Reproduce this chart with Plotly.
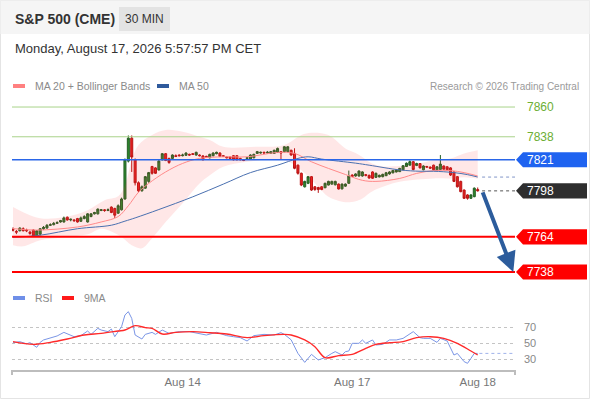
import plotly.graph_objects as go

# S&P 500 (CME) 30 min bars, oldest first
opens = [
    7769.5, 7768, 7768.5, 7770, 7769, 7767.5, 7769, 7764.5, 7766, 7770,
    7770.5, 7772.5, 7773, 7774, 7775, 7775, 7778.5, 7776.5, 7776.5, 7777.5,
    7775.5, 7777.5, 7775, 7779, 7781, 7781, 7783.5, 7784, 7783.5, 7786,
    7785, 7781.5, 7784, 7792, 7820, 7837, 7821, 7804, 7798, 7800,
    7805, 7816, 7815, 7813.5, 7821, 7825.5, 7822, 7822, 7824, 7824.5,
    7824, 7824.3, 7825, 7825.5, 7824.5, 7824.5, 7823.8, 7823.5, 7822.5, 7824,
    7825.5, 7826, 7824, 7823, 7823, 7824, 7824, 7822, 7821, 7822,
    7821.5, 7822.5, 7825.7, 7826, 7826.5, 7826, 7825.7, 7825.7, 7826.5, 7827,
    7827, 7827, 7828, 7825.7, 7817, 7811, 7801, 7803.6, 7808.5, 7801,
    7800.5, 7801, 7800.3, 7802.3, 7803, 7802.5, 7803, 7799.5, 7801.5, 7803.6,
    7809.7, 7809, 7809, 7809, 7810, 7809.5, 7812, 7808, 7808.3, 7808.5,
    7809.2, 7810.5, 7811.3, 7812, 7812.2, 7813.6, 7816, 7817, 7819.6, 7816.8,
    7818.2, 7813.6, 7816, 7815.6, 7817, 7813.6, 7813.8, 7816.4, 7815.8, 7815,
    7812, 7808.5, 7805, 7798.6, 7795, 7792.5, 7793.7, 7799,
]
highs = [
    7771, 7769, 7771, 7771, 7770, 7768.5, 7769.5, 7769, 7770.5, 7772,
    7773.5, 7774, 7775, 7775.5, 7776.5, 7779, 7779, 7777.5, 7777, 7778,
    7779, 7780, 7781.5, 7781.5, 7782.5, 7785, 7784.5, 7784.5, 7785, 7786.5,
    7785.5, 7788, 7793, 7822, 7839, 7839, 7822, 7805, 7802, 7809,
    7812, 7816.5, 7815.5, 7821, 7826, 7826, 7822.5, 7825, 7825, 7825,
    7825.5, 7826.5, 7825.5, 7826, 7827, 7825, 7824.5, 7824, 7825.5, 7826.5,
    7827, 7826.5, 7824.5, 7823.5, 7823.5, 7824.5, 7824.5, 7822.5, 7821.5, 7823,
    7825, 7825.5, 7827.5, 7827, 7827, 7827.5, 7827.5, 7828.5, 7830, 7827.5,
    7831, 7831, 7828.5, 7829.5, 7817.5, 7811.5, 7805.5, 7809, 7809, 7801.5,
    7801, 7801.5, 7804, 7805.5, 7805.5, 7805.5, 7803.5, 7803.5, 7803.5, 7813,
    7810.2, 7811, 7813, 7812.5, 7810.5, 7810, 7812.5, 7811.5, 7810, 7810.7,
    7812, 7812.5, 7813.5, 7814, 7815, 7817, 7819, 7820.5, 7820, 7818.8,
    7818.6, 7816.9, 7816.5, 7816, 7817.4, 7816.2, 7824.5, 7816.8, 7816.2, 7815.5,
    7812.5, 7809, 7805.5, 7799, 7795.5, 7795.5, 7800.5, 7800.5,
]
lows = [
    7768, 7766, 7768, 7768, 7767.5, 7765.5, 7764, 7764, 7765, 7769,
    7770, 7772, 7772.5, 7773.5, 7774.5, 7774.5, 7776, 7775.5, 7775, 7774.5,
    7775, 7777, 7774.5, 7778.5, 7780.5, 7780.5, 7783, 7782.5, 7783, 7781.5,
    7778, 7781, 7783.5, 7791.5, 7819, 7812, 7802, 7797, 7797.5, 7799.5,
    7804, 7810, 7810.5, 7813, 7820.5, 7820, 7818, 7821.5, 7823, 7823.5,
    7823.5, 7824, 7824, 7824.5, 7824, 7823.5, 7820.5, 7822.5, 7822, 7823.5,
    7825, 7823, 7823, 7822, 7821.5, 7820.5, 7820.5, 7820.5, 7820, 7821.5,
    7821, 7822, 7825.5, 7825.5, 7825.5, 7825.5, 7825.5, 7825.5, 7826, 7821,
    7826.5, 7826.5, 7824, 7814, 7810, 7801.5, 7800.5, 7803, 7798, 7798,
    7796.5, 7798.5, 7800, 7802, 7802.5, 7802, 7799, 7799, 7801, 7803.3,
    7808.3, 7808.5, 7808.5, 7808.5, 7808.7, 7807, 7806.8, 7807.5, 7808, 7808,
    7809, 7810, 7811, 7811.6, 7812, 7813.2, 7815.8, 7816.8, 7813.2, 7816.3,
    7814.6, 7813.2, 7815.2, 7814.4, 7813.2, 7813.2, 7813.4, 7813.4, 7813, 7809,
    7804.5, 7800.5, 7797, 7792, 7791.5, 7792, 7793.3, 7797.5,
]
closes = [
    7769, 7767.5, 7770.5, 7768.5, 7768.5, 7766.5, 7764.5, 7768.5, 7770, 7771,
    7772.5, 7773, 7774, 7774.5, 7776, 7778, 7776.5, 7777, 7776, 7775,
    7778, 7779, 7781, 7781, 7782, 7784.5, 7784, 7783.5, 7784, 7782,
    7780, 7787, 7792, 7821, 7837, 7823, 7804, 7798, 7801, 7808.5,
    7811.5, 7811, 7811, 7820, 7825.5, 7820.5, 7819, 7824.5, 7823.5, 7824,
    7824.5, 7826, 7824.5, 7825, 7826.5, 7824, 7821, 7823, 7825, 7826,
    7826.5, 7823.5, 7823.5, 7822.5, 7822, 7821, 7821, 7821, 7820.5, 7822.5,
    7824.5, 7825, 7827, 7826.5, 7826, 7826.5, 7827, 7828, 7829.4, 7826,
    7830.6, 7830.6, 7824.5, 7814.7, 7811, 7802.3, 7805, 7808.5, 7798.6, 7799,
    7799, 7799, 7803.6, 7805, 7805, 7805, 7799.4, 7803, 7803, 7809,
    7808.7, 7810.5, 7812.7, 7812, 7809.5, 7807.5, 7807.3, 7811, 7809.5, 7810.2,
    7811.4, 7812, 7813, 7813.4, 7814.6, 7816.6, 7818.4, 7819.6, 7813.8, 7818.2,
    7815, 7816.4, 7815.6, 7814.8, 7813.6, 7815.8, 7817.8, 7814, 7813.6, 7809.7,
    7805, 7801, 7797.4, 7792.5, 7792.5, 7795, 7800, 7798,
]

# studies at these bar numbers
ma20_bars = [0, 7, 19, 26, 31, 34, 37, 40, 45, 50, 55, 62, 69, 78, 83, 88, 93,
             98, 103, 107, 114, 119, 124, 129, 133, 137]
ma20 = [7770.1, 7769, 7771.3, 7775, 7779, 7787, 7797, 7803.5, 7812, 7818.3,
        7822, 7823.2, 7823.2, 7826.4, 7825.7, 7819.5, 7814.6, 7810.1, 7805.8,
        7805, 7807.2, 7810.9, 7813, 7813, 7811.5, 7809]
ma50_bars = [0, 8, 19, 29, 33, 36, 43, 53, 62, 70, 78, 84, 87, 91, 101, 105,
             114, 120, 124, 130, 134, 137]
ma50 = [7763.7, 7765.2, 7770, 7772.6, 7775.6, 7778, 7784.2, 7793.6, 7803,
        7811.5, 7817, 7822, 7823.2, 7821.5, 7818.5, 7817, 7813.5, 7812.5,
        7812.5, 7811.5, 7810, 7808.2]
bb_up_bars = [0, 3, 8, 15, 22, 27, 31, 33, 35, 37, 41, 45, 50, 55, 58, 62, 72,
              80, 85, 88, 93, 98, 101, 103, 105, 108, 114, 119, 124, 129, 133, 137]
bb_up = [7786, 7782.2, 7777.8, 7778.5, 7783.7, 7791.1, 7794, 7802, 7820.7,
         7831.9, 7839.3, 7843, 7841.7, 7838, 7835.6, 7830.6, 7830.6, 7831.9,
         7839.3, 7841, 7839.3, 7829.4, 7826, 7823, 7819.3, 7816.3, 7816.3,
         7817.8, 7820.7, 7822, 7825.7, 7828.1]
bb_low_bars = [0, 3, 8, 15, 22, 26, 29, 32, 35, 38, 41, 45, 50, 55, 58, 62, 69,
               80, 85, 90, 93, 98, 101, 103, 106, 114, 124, 129, 133, 137]
bb_low = [7757.8, 7757, 7761.5, 7763.7, 7765.9, 7770, 7768, 7763.9, 7757.8,
          7755.6, 7763, 7775, 7788.9, 7803.5, 7809.6, 7815.8, 7819.5, 7820.7,
          7813.3, 7801, 7793.6, 7789.6, 7790.4, 7792.4, 7797.8, 7804.7, 7807.2,
          7807.2, 7808.1, 7807]

rsi_bars = [0, 2, 4, 5, 7, 8, 9, 11, 13, 15, 17, 18, 20, 22, 23, 25, 26, 28,
            29, 30, 32, 33, 34, 35, 36, 38, 39, 41, 42, 44, 46, 49, 52, 55, 57,
            60, 63, 65, 67, 69, 71, 74, 77, 79, 80, 82, 84, 86, 88, 90, 92, 94,
            95, 97, 98, 99, 100, 102, 103, 104, 106, 107, 109, 111, 113, 115,
            117, 118, 120, 121, 123, 125, 126, 128, 130, 131, 133, 134, 135,
            136, 137]
rsi = [50.4, 51.7, 49, 50.4, 44.6, 50.8, 53.8, 56.7, 58.8, 63.3, 60, 57.9,
       59.2, 65, 60.8, 68.3, 66.2, 64.2, 67.5, 57.9, 70.4, 85, 89.2, 80.8, 60,
       55, 60.8, 63.3, 60.8, 66.2, 62, 64.2, 64.2, 62, 60, 63.3, 59.2, 57.9,
       56.7, 52.5, 59.2, 60.8, 60, 62.9, 60.8, 54, 37, 25.8, 35.8, 28.8, 31.7,
       37, 39.2, 35, 39.2, 40, 49.6, 49.6, 53.8, 49.6, 53.8, 47.5, 48.3, 53.8,
       53.8, 55.8, 60.8, 64.2, 56.7, 55.8, 55.8, 50.8, 55.8, 52.5, 35, 37,
       26.7, 24.6, 30.8, 37, 37]
rsi_ma_bars = [0, 6, 11, 16, 21, 26, 31, 33, 36, 39, 41, 44, 48, 53, 58, 63,
               69, 74, 80, 82, 86, 89, 92, 96, 100, 104, 107, 111, 115, 119,
               123, 127, 131, 135, 137]
rsi_ma = [51.7, 48.3, 50.8, 55, 60, 62, 65, 66.2, 71.7, 69.2, 68.3, 61.2,
          63.3, 64.2, 62.9, 61.2, 56.7, 59.2, 60.8, 60, 53.8, 45.4, 31.7, 34.2,
          35.8, 43.3, 48.3, 50.4, 51.7, 56.7, 57.9, 55.8, 49.6, 40, 35]

date_ticks = [50, 100, 137]
date_labels = ["Aug 14", "Aug 17", "Aug 18"]
rsi_levels = [30, 50, 70]

resistances = [7860, 7838]
pivot = 7821
supports = [7764, 7738]
last_price = 7798
target = 7738

FONT = "Liberation Sans, Arial, sans-serif"
W, H = 590, 400
L, R, T, B = 12, 75, 95, 30
PW, PH = W - L - R, H - T - B
X_MAX = 148


def px(x):
    return (x - L) / PW


def py(y):
    return (H - B - y) / PH


def label(x, y, text, size, color, anchor="left"):
    fig.add_annotation(x=px(x), y=py(y), xref="paper", yref="paper", showarrow=False,
                       xanchor=anchor, yanchor="middle", text=text,
                       font=dict(size=size, color=color))


bars = list(range(len(closes)))

fig = go.Figure()

# bollinger band fill
fig.add_trace(go.Scatter(x=bb_up_bars, y=bb_up, mode="lines",
                         line=dict(width=0, shape="spline", color="rgba(0,0,0,0)"),
                         hoverinfo="skip"))
fig.add_trace(go.Scatter(x=bb_low_bars, y=bb_low, mode="lines", fill="tonexty",
                         fillcolor="rgba(255,60,60,0.12)",
                         line=dict(width=0, shape="spline", color="rgba(0,0,0,0)"),
                         hoverinfo="skip"))
fig.add_trace(go.Scatter(x=ma20_bars, y=ma20, mode="lines",
                         line=dict(width=1, shape="spline", color="#ff8a8a")))
fig.add_trace(go.Scatter(x=ma50_bars, y=ma50, mode="lines",
                         line=dict(width=1, shape="spline", color="#4a70b0")))

fig.add_trace(go.Candlestick(
    x=bars, open=opens, high=highs, low=lows, close=closes,
    increasing=dict(line=dict(color="#245e24", width=1), fillcolor="#2e8b2e"),
    decreasing=dict(line=dict(color="#b81414", width=1), fillcolor="#e82020"),
    whiskerwidth=0, hoverinfo="skip",
))

# rsi panel
fig.add_trace(go.Scatter(x=rsi_bars, y=rsi, mode="lines", xaxis="x2", yaxis="y2",
                         line=dict(width=1, color="#7b96e6")))
fig.add_trace(go.Scatter(x=rsi_ma_bars, y=rsi_ma, mode="lines", xaxis="x2", yaxis="y2",
                         line=dict(width=1.4, shape="spline", color="#ff2a2a")))

fig.update_layout(
    width=W, height=H,
    margin=dict(l=L, r=R, t=T, b=B),
    paper_bgcolor="white", plot_bgcolor="white",
    showlegend=False, boxgap=0.15,
    font=dict(family=FONT, color="#555"),
    xaxis=dict(domain=[0, 1], range=[-0.3, X_MAX], anchor="y",
               showticklabels=False, showgrid=False, zeroline=False,
               rangeslider=dict(visible=False)),
    yaxis=dict(domain=[0.32, 1], range=[7730.6, 7868.9], showticklabels=False,
               showgrid=False, zeroline=False),
    xaxis2=dict(domain=[0, 1], range=[-0.3, X_MAX], anchor="y2", matches="x",
                tickvals=date_ticks, ticktext=date_labels, ticks="",
                showgrid=False, zeroline=False, showline=True,
                linecolor="#bdbdbd", linewidth=2,
                tickfont=dict(size=11.5, color="#777")),
    yaxis2=dict(domain=[0, 0.2545], range=[16.25, 103.75], anchor="x2",
                side="right", tickvals=rsi_levels, ticks="",
                showgrid=True, gridcolor="#c4c4c4", griddash="dot", gridwidth=1,
                zeroline=False, ticklabelstandoff=8,
                tickfont=dict(size=11, color="#888")),
)

# card frame and header
fig.add_shape(type="rect", xref="paper", yref="paper",
              x0=px(0.5), x1=px(589.5), y0=py(398.5), y1=py(0.5),
              line=dict(color="#e4e4e4", width=1), fillcolor="rgba(0,0,0,0)", layer="below")
fig.add_shape(type="rect", xref="paper", yref="paper",
              x0=px(0.5), x1=px(589.5), y0=py(34), y1=py(0.5),
              line_width=0, fillcolor="#f5f5f5", layer="below")
fig.add_shape(type="rect", xref="paper", yref="paper",
              x0=px(119), x1=px(170), y0=py(31), y1=py(7),
              line_width=0, fillcolor="#e3e3e3", layer="below")
label(13, 19, "<b>S&P 500 (CME)</b>", 14, "#333")
label(144.5, 19, "30 MIN", 12, "#333", anchor="center")
label(13, 48, "Monday, August 17, 2026 5:57:57 PM CET", 13, "#333")


def legend_item(x, y, color, text):
    fig.add_shape(type="rect", xref="paper", yref="paper",
                  x0=px(x), x1=px(x + 12), y0=py(y + 2), y1=py(y - 2),
                  line_width=0, fillcolor=color)
    label(x + 20, y, text, 10.5, "#8a8a8a")


legend_item(13, 86, "#ff8080", "MA 20 + Bollinger Bands")
legend_item(157, 86, "#2f5a9c", "MA 50")
legend_item(13, 298, "#6f8fe8", "RSI")
legend_item(62, 298, "#ff1a1a", "9MA")
label(581, 86, "Research © 2026 Trading Central", 10, "#9a9a9a", anchor="right")

# price levels
for lvl in resistances:
    fig.add_shape(type="line", xref="paper", yref="y", x0=0, x1=1, y0=lvl, y1=lvl,
                  line=dict(color="#a9d38a", width=1))
    fig.add_annotation(x=px(525), y=lvl, xref="paper", yref="y", showarrow=False,
                       xanchor="left", yanchor="middle", text=str(lvl),
                       font=dict(size=12, color="#6cae34"))


def tag(level, color):
    h = 5.6
    fig.add_shape(type="path", xref="paper", yref="y",
                  path=(f"M {px(516)} {level} L {px(523)} {level + h} L {px(587)} {level + h} "
                        f"L {px(587)} {level - h} L {px(523)} {level - h} Z"),
                  fillcolor=color, line_width=0)
    fig.add_annotation(x=px(525), y=level, xref="paper", yref="y", showarrow=False,
                       xanchor="left", yanchor="middle", text=str(level),
                       font=dict(size=12, color="white"))


fig.add_shape(type="line", xref="paper", yref="y", x0=0, x1=1, y0=pivot, y1=pivot,
              line=dict(color="#2a66e8", width=1.5))
tag(pivot, "#1f63f0")
for lvl in supports:
    fig.add_shape(type="line", xref="paper", yref="y", x0=0, x1=1, y0=lvl, y1=lvl,
                  line=dict(color="#ff0000", width=2))
    tag(lvl, "#ff0000")

fig.add_shape(type="line", xref="x", yref="y", x0=len(closes) + 0.3, x1=X_MAX,
              y0=last_price, y1=last_price, line=dict(color="#555", width=1, dash="dot"))
tag(last_price, "#2e2e2e")
fig.add_shape(type="line", xref="x", yref="y", x0=len(closes) + 0.3, x1=X_MAX,
              y0=ma50[-1], y1=ma50[-1], line=dict(color="#8196c8", width=1, dash="dot"))
fig.add_shape(type="line", xref="x2", yref="y2", x0=len(closes) - 0.5, x1=X_MAX,
              y0=rsi[-1], y1=rsi[-1], line=dict(color="#9fb2ea", width=1, dash="dot"))

# forecast arrow
fig.add_annotation(x=len(closes) + 9.5, y=target, ax=len(closes) + 0.3, ay=last_price,
                   xref="x", yref="y", axref="x", ayref="y", text="", showarrow=True,
                   arrowhead=2, arrowsize=1, arrowwidth=4, arrowcolor="#2c5c9c")

# end ticks of the time axis
for xe in (0, 1):
    fig.add_shape(type="line", xref="paper", yref="paper", x0=xe, x1=xe,
                  y0=0, y1=py(375), line=dict(color="#bdbdbd", width=2))

fig.write_html("out.html", config={"displayModeBar": False},
               post_script="document.body.style.margin='0';")
